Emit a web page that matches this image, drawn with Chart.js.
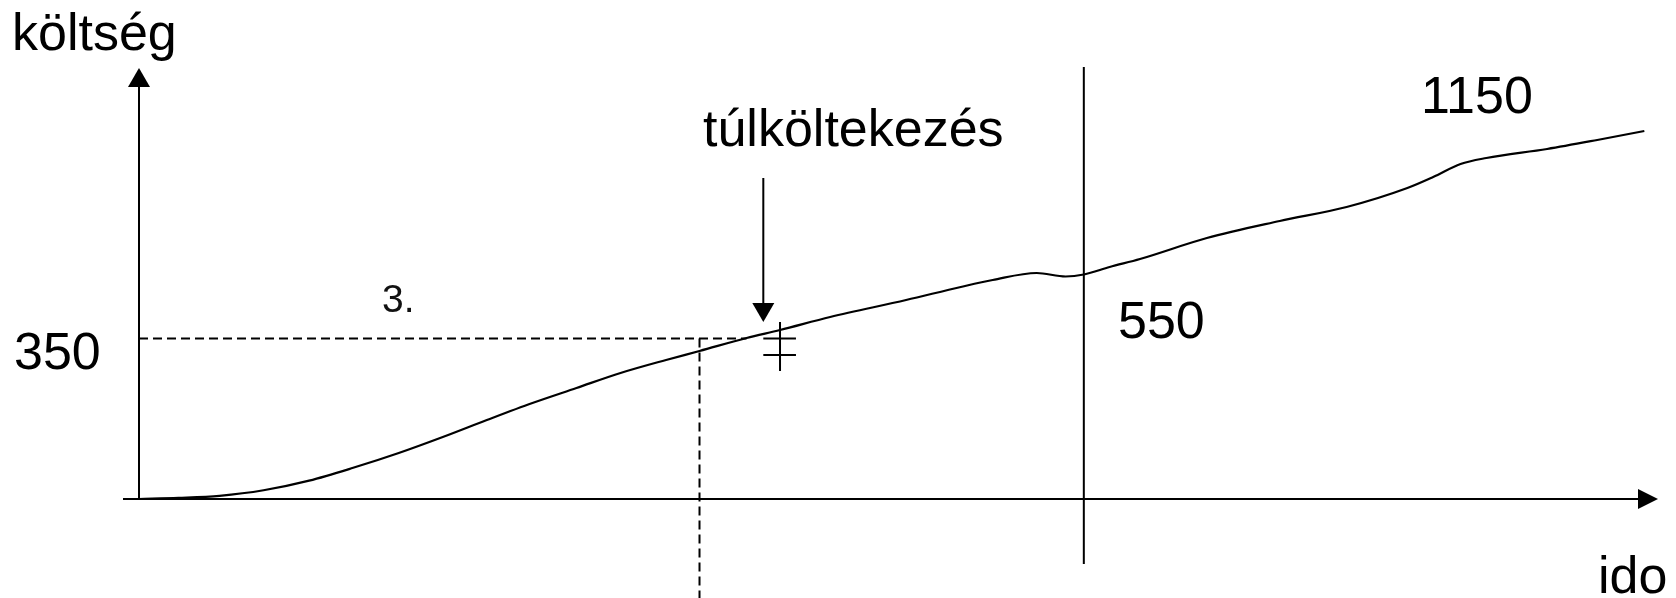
<!DOCTYPE html>
<html>
<head>
<meta charset="utf-8">
<script src="https://cdn.jsdelivr.net/npm/chart.js@4.4.1/dist/chart.umd.min.js"></script>
<style>
  html, body { margin: 0; padding: 0; background: #fff; }
  canvas { display: block; }
</style>
</head>
<body>
<canvas id="canvas" width="1676" height="598"></canvas>
<script>
// ido (time) and költség (cost) values
const idoValues = [0, 2.6, 5.3, 8.2, 11.2, 14.1, 17.1, 20.0, 22.9, 25.9, 28.8, 31.7, 34.7, 36.9, 40.0, 42.2, 45.5,
                   50.5, 54.1, 56.2, 59.1, 61.0, 62.2, 63.9, 65.9, 70.3, 75.1, 79.5, 83.5, 85.2, 87.0, 88.7, 92.7, 96.0, 99.1];
const koltsegValues = [0, 2.5, 7, 19, 40, 68, 100.3, 135.2, 172.3, 209.4, 242.1, 274.8, 303.2, 322.8, 351.1, 368.6, 397.0,
                       434.0, 462.4, 477.6, 492.9, 485.3, 489.6, 506.0, 523.4, 569.2, 606.3, 636.9, 678.3, 702.3, 730.6, 743.7, 763.4, 783.0, 802.6];

// reference level and reference times
const budgetLevel = 350;      // dashed horizontal
const budgetTime = 36.9;      // dashed vertical
const checkTime = 62.2;       // solid vertical (550)
const overrunTime = 41.1;     // arrow "túlköltekezés"
const markTime = 42.2;        // double cross mark
const markLevels = [350, 314];

const xMax = 100;
const yMax = 940;

let c = document.getElementById('canvas');
let ctx = c.getContext('2d');

let curve = idoValues.map((x, i) => ({ x: x, y: koltsegValues[i] }));

function seg(x1, y1, x2, y2) {
    return [{ x: x1, y: y1 }, { x: x2, y: y2 }];
}

function lineSet(data, dashed) {
    return {
        data: data,
        borderColor: '#000',
        borderWidth: 2,
        borderDash: dashed ? [9, 5] : [],
        pointRadius: 0,
        tension: 0,
        clip: false,
        fill: false
    };
}

// feliratok (pixel layout)
const texts = [
    { t: 'költség', x: 12, y: 50, size: 52 },
    { t: 'túlköltekezés', x: 703, y: 146, size: 52 },
    { t: '1150', x: 1421, y: 113, size: 52 },
    { t: '350', x: 14, y: 369, size: 52 },
    { t: '550', x: 1118, y: 338, size: 52 },
    { t: 'ido', x: 1598, y: 593, size: 52 },
    { t: '3.', x: 382, y: 312, size: 39 }
];

function arrowHead(g, tx, ty, dir) {   // dir: 'up' | 'down' | 'right'
    g.beginPath();
    if (dir === 'up') {
        g.moveTo(tx, ty); g.lineTo(tx - 11, ty + 19); g.lineTo(tx + 11, ty + 19);
    } else if (dir === 'down') {
        g.moveTo(tx, ty); g.lineTo(tx - 11, ty - 19); g.lineTo(tx + 11, ty - 19);
    } else {
        g.moveTo(tx, ty); g.lineTo(tx - 20, ty - 10); g.lineTo(tx - 20, ty + 10);
    }
    g.closePath();
    g.fill();
}

const sketchPlugin = {
    id: 'sketch',
    afterDatasetsDraw(chart) {
        const g = chart.ctx;
        const sx = chart.scales.x, sy = chart.scales.y;
        const x0 = sx.getPixelForValue(0), y0 = sy.getPixelForValue(0);
        const xEnd = sx.getPixelForValue(xMax), yEnd = sy.getPixelForValue(yMax);
        g.save();
        g.strokeStyle = '#000';
        g.fillStyle = '#000';
        g.lineWidth = 2;
        // axes
        g.beginPath();
        g.moveTo(x0 - 16, y0); g.lineTo(xEnd - 18, y0);
        g.moveTo(x0, y0); g.lineTo(x0, yEnd + 18);
        g.stroke();
        arrowHead(g, xEnd, y0, 'right');
        arrowHead(g, x0, yEnd, 'up');
        // pointer arrow head
        arrowHead(g, sx.getPixelForValue(overrunTime), sy.getPixelForValue(386), 'down');
        // texts
        g.textBaseline = 'alphabetic';
        texts.forEach(l => {
            g.font = l.size + 'px "Liberation Sans", Arial, sans-serif';
            g.fillStyle = l.size < 50 ? '#111' : '#000';
            g.fillText(l.t, l.x, l.y);
        });
        g.restore();
    }
};

let curveSet = lineSet(curve, false);
curveSet.cubicInterpolationMode = 'monotone';   // smooth curve like the sketch
curveSet.borderWidth = 2.2;

let myChart = new Chart(ctx, {
    type: 'line',
    data: {
        datasets: [
            curveSet,
            lineSet(seg(0, budgetLevel, 40.0, budgetLevel), true),
            lineSet(seg(budgetTime, budgetLevel, budgetTime, -220), true),
            lineSet(seg(checkTime, 942, checkTime, -142), false),
            lineSet(seg(overrunTime, 700, overrunTime, 420), false),
            lineSet(seg(markTime, 386, markTime, 279), false),
            lineSet(seg(41.1, markLevels[0], 43.25, markLevels[0]), false),
            lineSet(seg(41.1, markLevels[1], 43.25, markLevels[1]), false)
        ]
    },
    options: {
        responsive: false,
        animation: false,
        devicePixelRatio: 1,
        layout: { padding: { left: 139, right: 18, top: 68, bottom: 99 } },
        scales: {
            x: { type: 'linear', min: 0, max: xMax, display: false },
            y: { type: 'linear', min: 0, max: yMax, display: false }
        },
        plugins: { legend: { display: false }, tooltip: { enabled: false } }
    },
    plugins: [sketchPlugin]
});
</script>
</body>
</html>
